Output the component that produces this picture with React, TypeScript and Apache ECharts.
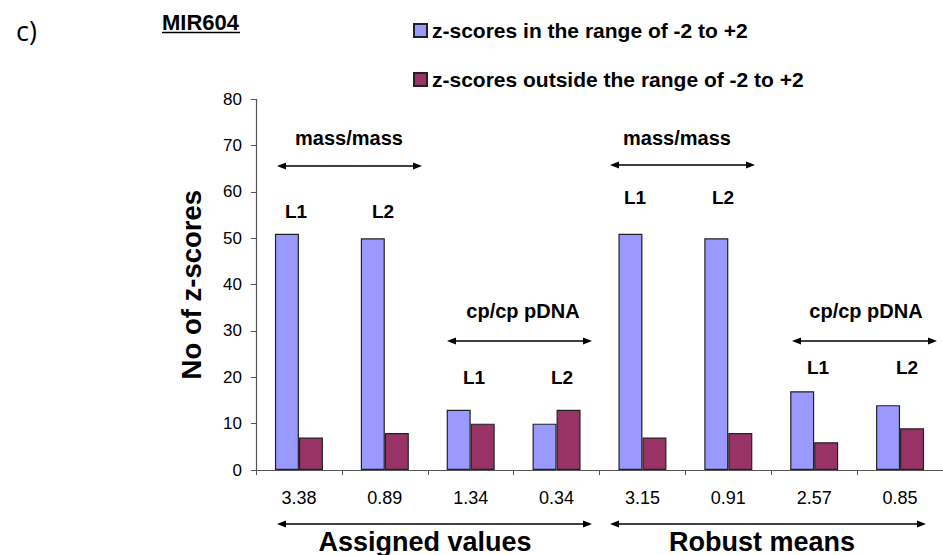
import React, { useEffect, useRef } from "react";
import * as echarts from "echarts";

const categories = ["3.38", "0.89", "1.34", "0.34", "3.15", "0.91", "2.57", "0.85"];
const inRange = [51, 50, 13, 10, 51, 50, 17, 14];
const outsideRange = [7, 8, 10, 13, 7, 8, 6, 9];
const seriesNames = [
  "z-scores in the range of -2 to +2",
  "z-scores outside the range of -2 to +2",
];
const yTicks = { min: 0, max: 80, interval: 10 };

const FONT = "'Liberation Sans', Arial, sans-serif";

function arrow(x1: number, x2: number, y: number) {
  const h = 9;
  const w = 3.5;
  return [
    {
      type: "line",
      shape: { x1: x1 + 4, y1: y, x2: x2 - 4, y2: y },
      style: { stroke: "#000", lineWidth: 1.5 },
      silent: true,
    },
    {
      type: "polygon",
      shape: { points: [[x1, y], [x1 + h, y - w], [x1 + h, y + w]] },
      style: { fill: "#000" },
      silent: true,
    },
    {
      type: "polygon",
      shape: { points: [[x2, y], [x2 - h, y - w], [x2 - h, y + w]] },
      style: { fill: "#000" },
      silent: true,
    },
  ];
}

function label(text: string, x: number, y: number, size: number, vAlign = "middle") {
  return {
    type: "text",
    x,
    y,
    silent: true,
    style: {
      text,
      fill: "#000",
      font: `bold ${size}px ${FONT}`,
      align: "center",
      verticalAlign: vAlign,
    },
  };
}

export default function App() {
  const ref = useRef<HTMLDivElement>(null);

  useEffect(() => {
    if (!ref.current) return;
    const chart = echarts.init(ref.current, undefined, { renderer: "svg" });

    const graphics: any[] = [
      {
        type: "text",
        x: 16,
        y: 30,
        silent: true,
        style: {
          text: "c)",
          fill: "#000",
          font: `27px 'Open Sans', ${FONT}`,
          verticalAlign: "middle",
        },
      },
      {
        type: "text",
        x: 162,
        y: 22,
        silent: true,
        style: {
          text: "MIR604",
          fill: "#000",
          font: `bold 22px ${FONT}`,
          verticalAlign: "middle",
        },
      },
      {
        type: "line",
        shape: { x1: 162, y1: 32.5, x2: 240, y2: 32.5 },
        style: { stroke: "#000", lineWidth: 1.3 },
        silent: true,
      },
      label("mass/mass", 349, 138, 20),
      ...arrow(277, 422, 166),
      label("L1", 296, 211, 19),
      label("L2", 383, 211, 19),
      label("mass/mass", 677, 138, 20),
      ...arrow(610, 755, 165),
      label("L1", 635, 197, 19),
      label("L2", 723, 197, 19),
      label("cp/cp pDNA", 523, 311, 20),
      ...arrow(447, 592, 341),
      label("L1", 474, 377, 19),
      label("L2", 562, 377, 19),
      label("cp/cp pDNA", 866, 311, 20),
      ...arrow(792, 937, 341),
      label("L1", 818, 367, 19),
      label("L2", 907, 367, 19),
      ...arrow(277, 592, 524),
      ...arrow(610, 926, 524),
      label("Assigned values", 425, 555, 27, "bottom"),
      label("Robust means", 762, 555, 27, "bottom"),
    ];

    chart.setOption({
      animation: false,
      textStyle: { fontFamily: FONT },
      legend: {
        orient: "vertical",
        left: 408,
        top: 15,
        itemWidth: 13,
        itemHeight: 13,
        itemGap: 28,
        icon: "rect",
        data: seriesNames,
        textStyle: { fontSize: 21, fontWeight: "bold", color: "#000", fontFamily: FONT },
        selectedMode: false,
      },
      grid: { left: 256, top: 99.3, width: 693, height: 370.7, containLabel: false },
      xAxis: {
        type: "category",
        data: categories,
        axisLine: { lineStyle: { color: "#555", width: 1.2 } },
        axisTick: { show: true, length: 5, alignWithLabel: false, lineStyle: { color: "#555" } },
        axisLabel: { fontSize: 18, color: "#000", margin: 19, fontFamily: FONT },
        splitLine: { show: false },
      },
      yAxis: {
        type: "value",
        min: yTicks.min,
        max: yTicks.max,
        interval: yTicks.interval,
        name: "No of z-scores",
        nameLocation: "middle",
        nameGap: 51,
        nameTextStyle: { fontSize: 27.5, fontWeight: "bold", color: "#000", fontFamily: FONT },
        axisLine: { show: true, lineStyle: { color: "#555", width: 1.2 } },
        axisTick: { show: true, length: 5, lineStyle: { color: "#555" } },
        axisLabel: { fontSize: 17, color: "#000", margin: 14, fontFamily: FONT },
        splitLine: { show: false },
      },
      series: [
        {
          name: seriesNames[0],
          type: "bar",
          data: inRange,
          barWidth: 24,
          barGap: "0%",
          itemStyle: { color: "#9999FF", borderColor: "#222", borderWidth: 1.2 },
        },
        {
          name: seriesNames[1],
          type: "bar",
          data: outsideRange,
          barWidth: 24,
          barGap: "0%",
          itemStyle: { color: "#993366", borderColor: "#222", borderWidth: 1.2 },
        },
      ],
      graphic: graphics,
    });

    return () => chart.dispose();
  }, []);

  return (
    <div
      ref={ref}
      style={{ position: "absolute", left: 0, top: 0, width: 943, height: 555, background: "#fff" }}
    />
  );
}
